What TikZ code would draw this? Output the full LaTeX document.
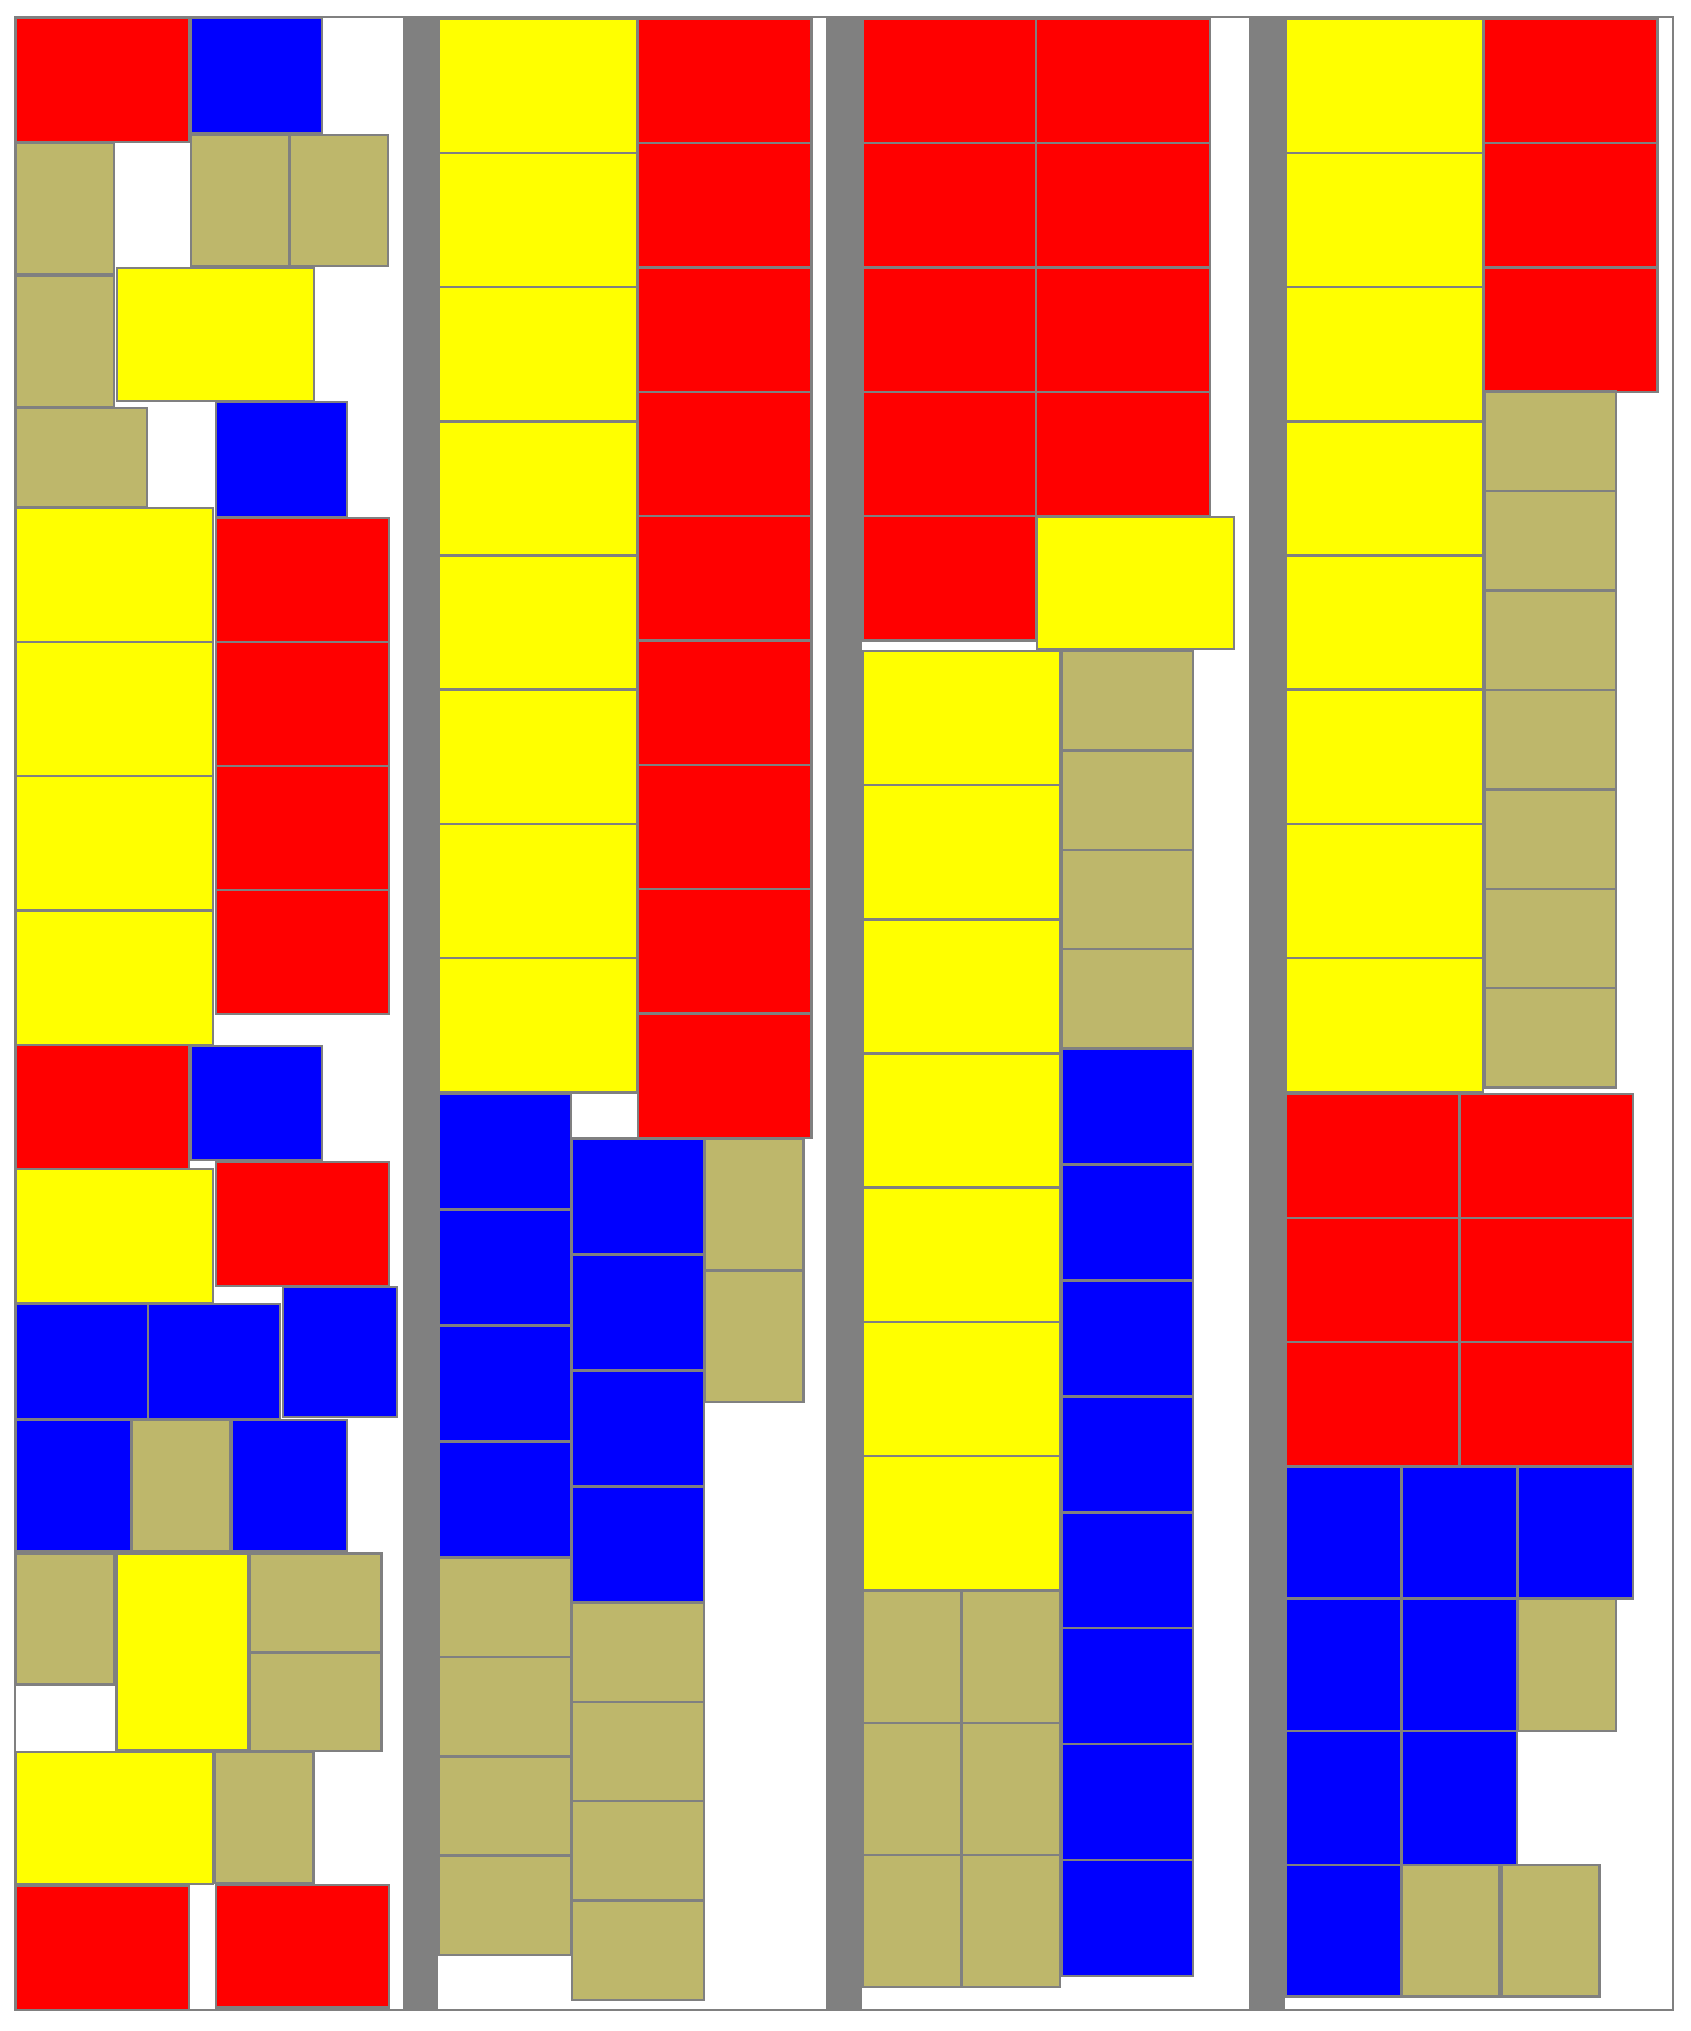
\documentclass[tikz,border=0pt]{standalone}
\definecolor{khakibox}{RGB}{190,183,107}
\definecolor{bargray}{RGB}{128,128,128}
\definecolor{boxyellow}{RGB}{255,255,0}
\definecolor{boxred}{RGB}{255,0,0}
\definecolor{boxblue}{RGB}{0,0,255}
\definecolor{edgegray}{RGB}{128,128,128}
\tikzset{
  bx/.style={draw=edgegray,line width=0.7pt},
  rbox/.style={bx,fill=boxred},
  bbox/.style={bx,fill=boxblue},
  ybox/.style={bx,fill=boxyellow},
  tbox/.style={bx,fill=khakibox},
  sepbar/.style={fill=bargray,draw=none},
  binframe/.style={draw=edgegray,fill=white,line width=0.7pt}
}
\newcommand\bx[5]{\draw[#1] (#2,#3) rectangle ++(#4,#5);}
\begin{document}
\begin{tikzpicture}[x=0.01cm,y=-0.01cm]
\useasboundingbox (0,0) rectangle (1690,2031);
% frame and separators
\draw[binframe] (15,17) rectangle (1673,2010);
\fill[sepbar] (403,17) rectangle (438,2010);
\fill[sepbar] (826,17) rectangle (862,2010);
\fill[sepbar] (1249,17) rectangle (1285,2010);
% ---------------- bin 1
\bx{rbox}{16}{18}{173}{124}
\bx{bbox}{191}{18}{131}{115}
\bx{tbox}{16}{143}{98}{131.5}
\bx{tbox}{191}{135}{98}{131}
\bx{tbox}{290}{135}{98}{131}
\bx{tbox}{16}{275.5}{98}{131.5}
\bx{ybox}{117}{268}{197}{133}
\bx{tbox}{16}{408}{131}{99.5}
\bx{bbox}{216}{402}{131}{115.5}
\foreach \yy in {508,642,776,911} {\bx{ybox}{16}{\yy}{197}{134}}
\foreach \yy in {518,642,766,890} {\bx{rbox}{216}{\yy}{173}{124}}
\bx{rbox}{16}{1045}{173}{124}
\bx{bbox}{191}{1046}{131}{114}
\bx{ybox}{16}{1169}{197}{134}
\bx{rbox}{216}{1162}{173}{124}
\bx{bbox}{16}{1304}{132}{115}
\bx{bbox}{148}{1304}{132}{115}
\bx{bbox}{283}{1287}{114}{130}
\bx{bbox}{16}{1420}{115.5}{131}
\bx{tbox}{131.5}{1420}{99}{131}
\bx{bbox}{231.5}{1420}{115.5}{131}
\bx{tbox}{16}{1553.5}{98.5}{131}
\bx{ybox}{116.5}{1553.5}{132}{197}
\bx{tbox}{250}{1553.5}{131.5}{99}
\bx{tbox}{250}{1652.5}{131.5}{98.5}
\bx{ybox}{16}{1752}{197}{132}
\bx{tbox}{215}{1752}{98.5}{131}
\bx{rbox}{16}{1886}{173}{124}
\bx{rbox}{216}{1885}{173}{122.5}
% ---------------- bin 2
\foreach \k in {0,...,7} {\bx{ybox}{439}{18.7+134.2*\k}{198}{134.2}}
\foreach \k in {0,...,8} {\bx{rbox}{638}{18.7+124.35*\k}{173.5}{124.35}}
\foreach \k in {0,...,3} {\bx{bbox}{439}{1093.4+116.1*\k}{132}{116.1}}
\foreach \k in {0,...,3} {\bx{tbox}{439}{1557.7+99.3*\k}{132}{99.3}}
\foreach \k in {0,...,3} {\bx{bbox}{572}{1138.5+116.0*\k}{132}{116.0}}
\foreach \k in {0,...,3} {\bx{tbox}{572}{1602.6+99.3*\k}{132}{99.3}}
\bx{tbox}{705}{1138.5}{98.5}{132}
\bx{tbox}{705}{1270.5}{98.5}{131.5}
% ---------------- bin 3
\foreach \k in {0,...,4} {\bx{rbox}{863}{18.75+124.35*\k}{173}{124.35}}
\foreach \k in {0,...,3} {\bx{rbox}{1036}{18.75+124.35*\k}{174}{124.35}}
\bx{ybox}{1037}{517}{197}{132}
\foreach \k in {0,...,6} {\bx{ybox}{863}{650.9+134.2*\k}{197}{134.2}}
\foreach \k in {0,...,3} {\bx{tbox}{1062}{650.9+99.45*\k}{131}{99.45}}
\foreach \k in {0,...,7} {\bx{bbox}{1062}{1048.7+115.9*\k}{131}{115.9}}
\foreach \k in {0,...,2} {
  \bx{tbox}{863}{1591+132*\k}{98.5}{132}
  \bx{tbox}{961.5}{1591+132*\k}{98.5}{132}}
% ---------------- bin 4
\foreach \k in {0,...,7} {\bx{ybox}{1286}{18.7+134.2*\k}{197}{134.2}}
\foreach \k in {0,...,2} {\bx{rbox}{1484}{18.75+124.35*\k}{173.5}{124.35}}
\foreach \k in {0,...,6} {\bx{tbox}{1485}{391.5+99.45*\k}{131}{99.45}}
\foreach \k in {0,...,2} {
  \bx{rbox}{1286}{1093.8+124.1*\k}{173.5}{124.1}
  \bx{rbox}{1459.5}{1093.8+124.1*\k}{173.5}{124.1}}
\foreach \xx in {1286,1401.5,1517.5} {\bx{bbox}{\xx}{1466.5}{115.5}{132}}
\foreach \xx in {1286,1401.5} {\bx{bbox}{\xx}{1598.5}{115.5}{132.5}}
\bx{tbox}{1517.5}{1598.5}{98.5}{132.5}
\foreach \xx in {1286,1401.5} {\bx{bbox}{\xx}{1731}{115.5}{134}}
\bx{bbox}{1286}{1865}{115.5}{131.5}
\bx{tbox}{1402}{1865}{97.5}{131.5}
\bx{tbox}{1501.5}{1865}{98}{131.5}
\end{tikzpicture}
\end{document}
